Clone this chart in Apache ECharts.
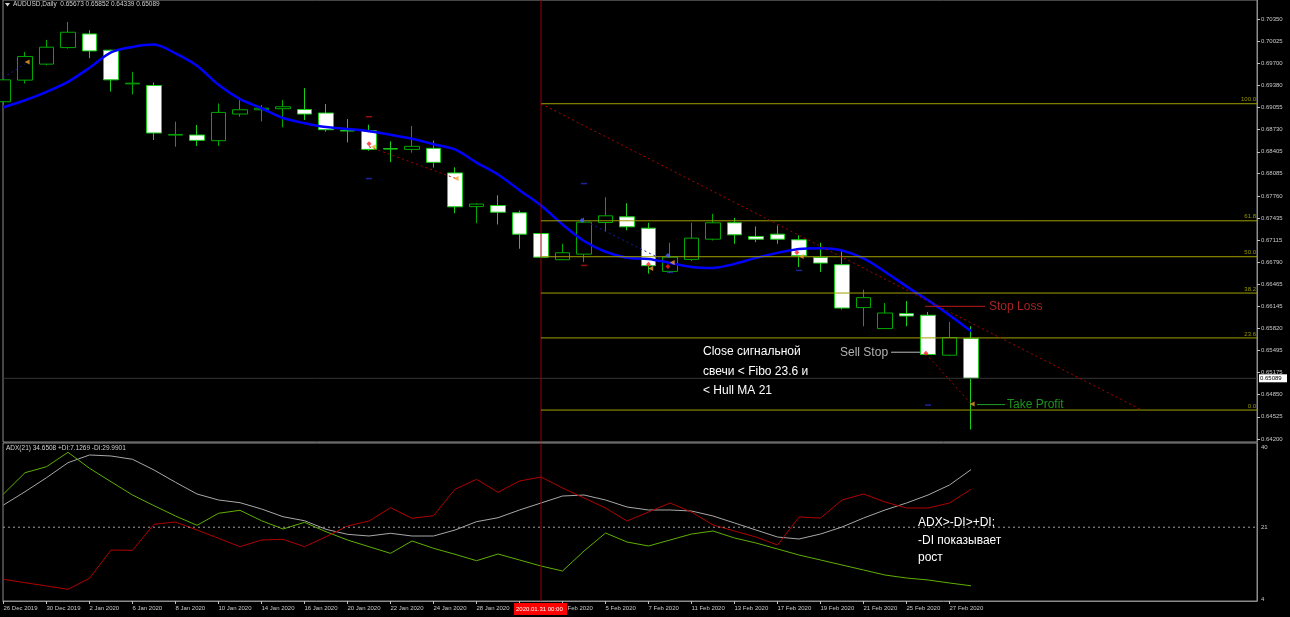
<!DOCTYPE html>
<html>
<head>
<meta charset="utf-8">
<title>AUDUSD,Daily</title>
<script src="https://cdn.jsdelivr.net/npm/echarts@6/dist/echarts.min.js"></script>
<style>
  html, body { margin: 0; padding: 0; background: #000; }
  #main { width: 1290px; height: 617px; }
</style>
</head>
<body>
<div id="main"></div>
<script>
// бары (дневки)
const dates = ['26 Dec 2019', '27 Dec 2019', '30 Dec 2019', '31 Dec 2019', '2 Jan 2020', '3 Jan 2020',
  '6 Jan 2020', '7 Jan 2020', '8 Jan 2020', '9 Jan 2020', '10 Jan 2020', '13 Jan 2020', '14 Jan 2020',
  '15 Jan 2020', '16 Jan 2020', '17 Jan 2020', '20 Jan 2020', '21 Jan 2020', '22 Jan 2020', '23 Jan 2020',
  '24 Jan 2020', '27 Jan 2020', '28 Jan 2020', '29 Jan 2020', '30 Jan 2020', '31 Jan 2020', '3 Feb 2020',
  '4 Feb 2020', '5 Feb 2020', '6 Feb 2020', '7 Feb 2020', '10 Feb 2020', '11 Feb 2020', '12 Feb 2020',
  '13 Feb 2020', '14 Feb 2020', '17 Feb 2020', '18 Feb 2020', '19 Feb 2020', '20 Feb 2020', '21 Feb 2020',
  '24 Feb 2020', '25 Feb 2020', '26 Feb 2020', '27 Feb 2020', '28 Feb 2020'];
const opens = [0.69138, 0.69455, 0.69689, 0.69931, 0.70131, 0.69893, 0.69400, 0.69376, 0.68650, 0.68651,
  0.68568, 0.68958, 0.69021, 0.69036, 0.69025, 0.68973, 0.68718, 0.68714, 0.68450, 0.68441, 0.68456,
  0.68096, 0.67603, 0.67619, 0.67512, 0.67209, 0.66825, 0.66907, 0.67370, 0.67453, 0.67287, 0.66654,
  0.66830, 0.67126, 0.67366, 0.67166, 0.67199, 0.67117, 0.66859, 0.66752, 0.66124, 0.65817, 0.66036,
  0.66012, 0.65427, 0.65673];
const highs = [0.69480, 0.69868, 0.70044, 0.70307, 0.70185, 0.69900, 0.69576, 0.69420, 0.68846, 0.68798,
  0.69113, 0.69201, 0.69090, 0.69163, 0.69338, 0.69104, 0.68885, 0.68802, 0.68558, 0.68783, 0.68568,
  0.68178, 0.67652, 0.67769, 0.67545, 0.67215, 0.67059, 0.67439, 0.67740, 0.67652, 0.67366, 0.67074,
  0.67366, 0.67497, 0.67439, 0.67312, 0.67326, 0.67180, 0.67074, 0.66951, 0.66387, 0.66191, 0.66220,
  0.66060, 0.65914, 0.65852];
const lows = [0.69100, 0.69405, 0.69670, 0.69917, 0.69776, 0.69288, 0.69244, 0.68578, 0.68480, 0.68491,
  0.68491, 0.68919, 0.68850, 0.68763, 0.68871, 0.68700, 0.68543, 0.68420, 0.68254, 0.68393, 0.68174,
  0.67506, 0.67360, 0.67341, 0.66986, 0.66850, 0.66820, 0.66790, 0.67229, 0.67258, 0.66621, 0.66630,
  0.66805, 0.67107, 0.67059, 0.67082, 0.67059, 0.66717, 0.66644, 0.66095, 0.65851, 0.65810, 0.65851,
  0.65430, 0.65413, 0.64339];
const closes = [0.69459, 0.69800, 0.69937, 0.70156, 0.69883, 0.69459, 0.69410, 0.68681, 0.68660, 0.68573,
  0.68982, 0.69021, 0.69043, 0.69065, 0.68958, 0.68729, 0.68710, 0.68441, 0.68447, 0.68485, 0.68251,
  0.67600, 0.67640, 0.67521, 0.67199, 0.66863, 0.66927, 0.67375, 0.67468, 0.67307, 0.66738, 0.66863,
  0.67141, 0.67366, 0.67190, 0.67126, 0.67126, 0.66884, 0.66776, 0.66118, 0.66270, 0.66045, 0.66001,
  0.65437, 0.65686, 0.65089];
// Hull MA 21
const hullMA = [0.69057, 0.69160, 0.69284, 0.69430, 0.69635, 0.69861, 0.69941, 0.69975, 0.69846, 0.69664,
  0.69386, 0.69177, 0.69043, 0.68900, 0.68824, 0.68768, 0.68740, 0.68707, 0.68656, 0.68597, 0.68517,
  0.68440, 0.68247, 0.68074, 0.67843, 0.67618, 0.67341, 0.67100, 0.66942, 0.66854, 0.66837, 0.66778,
  0.66720, 0.66705, 0.66764, 0.66852, 0.66925, 0.66983, 0.66993, 0.66961, 0.66844, 0.66650, 0.66435,
  0.66231, 0.66012, 0.65778];
// ADX(21)
const adx = [26.26, 29.41, 32.73, 36.28, 38.11, 37.87, 37.09, 34.55, 31.64, 28.87, 27.45, 26.81, 25.32,
  23.49, 22.54, 20.51, 19.32, 18.92, 19.56, 18.92, 18.92, 20.34, 22.31, 23.25, 25.08, 26.74, 28.39, 28.63,
  27.45, 25.79, 25.08, 25.08, 24.84, 23.66, 22.00, 20.34, 18.68, 18.21, 19.39, 21.05, 23.18, 25.08, 26.74,
  28.63, 31.00, 34.6508];
const plusDI = [28.87, 33.91, 35.33, 38.74, 34.96, 31.78, 28.63, 26.10, 23.66, 21.45, 24.30, 25.01, 22.54,
  20.58, 22.16, 19.94, 17.97, 16.39, 14.82, 17.74, 16.01, 14.59, 13.07, 14.66, 13.24, 11.81, 10.63, 15.37,
  19.63, 17.50, 16.55, 17.97, 19.39, 20.10, 18.45, 17.26, 15.84, 14.42, 13.24, 12.05, 10.87, 9.68, 8.97,
  8.50, 7.79, 7.1269];
const minusDI = [8.66, 7.86, 7.08, 6.30, 8.90, 15.60, 15.53, 21.69, 22.24, 20.34, 18.38, 16.39, 17.97,
  18.14, 16.39, 18.75, 21.29, 22.47, 25.62, 23.11, 23.73, 29.98, 32.35, 29.27, 31.95, 32.89, 30.29, 27.92,
  25.55, 22.47, 24.60, 26.74, 24.60, 21.53, 20.10, 18.68, 16.79, 23.42, 23.18, 27.45, 28.87, 26.97, 25.55,
  25.55, 26.74, 29.9901];

const priceTicks = [0.70350, 0.70025, 0.69700, 0.69380, 0.69055, 0.68730, 0.68405, 0.68085, 0.67760,
  0.67435, 0.67115, 0.66790, 0.66465, 0.66145, 0.65820, 0.65495, 0.65175, 0.64850, 0.64525, 0.64200];
const adxTicks = [4, 21, 40];
const adxLevel = 21;
const dateTicks = [0, 2, 4, 6, 8, 10, 12, 14, 16, 18, 20, 22, 24, 26, 28, 30, 32, 34, 36, 38, 40, 42, 44];

// Фибо от 31 Jan
const fibNames = ['100.0', '61.8', '50.0', '38.2', '23.6', '0.0'];
const fibValues = [0.69109, 0.67395, 0.66869, 0.66337, 0.65680, 0.64624];
const fibBar = 25;
const fibTrend = [[25, 0.69109], [52.95, 0.64624]];
const tradeLineA = [[17, 0.68480], [21.05, 0.68013]];
const tradeLineB = [[42.9, 0.65452], [45.05, 0.64697]];
const tradeLineC = [[26.9, 0.67414], [30.9, 0.66786]];
const tradeLineD = [[-0.02, 0.69488], [1.0, 0.69693]];

// уровни ордера
const stopLoss = 0.66143, sellStop = 0.65471, takeProfit = 0.64704;
const stopLossBars = [42.86, 45.65];
const sellStopBars = [41.28, 42.63];
const takeProfitBars = [45.28, 46.58];

const redMarks = [[17.0, 0.68524], [30.0, 0.66757], [30.9, 0.66727], [36.9, 0.66932], [42.9, 0.65456]];
const orangeMarks = [[1.1, 0.69722], [17.2, 0.68480], [21.05, 0.68013], [30.1, 0.66698], [31.1, 0.66786],
  [37.1, 0.66873], [45.05, 0.64711]];
const blueMarks = [[26.9, 0.67399], [30.9, 0.66888]];
const blueDashes = [[17, 0.68013], [27, 0.67940], [31, 0.66640], [37, 0.66669], [43, 0.64697]];
const redDashes = [[17, 0.68919], [27, 0.66742]];

const xMin = -0.0233, xMax = 58.30;
const yMin = 0.641562, yMax = 0.706280;
const adxMin = 3.526, adxMax = 40.947;

const last = closes.length - 1;
const FONT = 'Liberation Sans';

function seg(data, color, type, grid) {
  return {
    type: 'line', xAxisIndex: grid || 0, yAxisIndex: grid || 0, data: data, showSymbol: false,
    silent: true, z: 4, lineStyle: { color: color, width: 1, type: type || 'solid' }
  };
}
function marks(data, symbol, size, color, rotate) {
  return {
    type: 'scatter', xAxisIndex: 0, yAxisIndex: 0, data: data, symbol: symbol, symbolSize: size,
    symbolRotate: rotate || 0, silent: true, z: 6, itemStyle: { color: color }
  };
}

const fibSeries = fibValues.map(function (v) {
  return seg([[fibBar, v], [xMax, v]], '#a0a000');
});

const option = {
  backgroundColor: '#000000',
  animation: false,
  textStyle: { fontFamily: FONT },
  grid: [
    { left: 3, top: -1, width: 1254, height: 443, show: true, borderColor: '#8c8c8c', borderWidth: 1 },
    { left: 3, top: 443, width: 1254, height: 158, show: true, borderColor: '#8c8c8c', borderWidth: 1 }
  ],
  xAxis: [
    { type: 'value', gridIndex: 0, min: xMin, max: xMax, show: false },
    {
      type: 'value', gridIndex: 1, min: xMin, max: xMax,
      axisLine: { show: true, onZero: false, lineStyle: { color: '#8c8c8c' } },
      axisTick: { show: true, customValues: dateTicks, length: 3, lineStyle: { color: '#c0c0c0' } },
      axisLabel: {
        customValues: dateTicks, formatter: function (v) { return dates[Math.round(v)]; },
        align: 'left', margin: 4, fontSize: 6, color: '#c8c8c8', fontFamily: FONT
      },
      splitLine: { show: false }
    }
  ],
  yAxis: [
    {
      type: 'value', gridIndex: 0, min: yMin, max: yMax, position: 'right',
      axisLine: { show: true, onZero: false, lineStyle: { color: '#8c8c8c' } },
      axisTick: { show: true, customValues: priceTicks, length: 3, lineStyle: { color: '#c0c0c0' } },
      axisLabel: {
        customValues: priceTicks, formatter: function (v) { return v.toFixed(5); },
        margin: 4, fontSize: 6, color: '#c8c8c8', fontFamily: FONT
      },
      splitLine: { show: false }
    },
    {
      type: 'value', gridIndex: 1, min: adxMin, max: adxMax, position: 'right',
      axisLine: { show: true, onZero: false, lineStyle: { color: '#8c8c8c' } },
      axisTick: { show: false },
      axisLabel: {
        customValues: adxTicks, formatter: function (v) { return String(v); },
        margin: 4, fontSize: 6, color: '#c8c8c8', fontFamily: FONT
      },
      splitLine: { show: false }
    }
  ],
  series: [
    // текущая цена и вертикаль 31 Jan
    seg([[xMin, closes[last]], [xMax, closes[last]]], '#363636'),
    seg([[fibBar, yMin], [fibBar, yMax]], '#9a0000'),
    {
      type: 'candlestick', xAxisIndex: 0, yAxisIndex: 0, barWidth: 15, z: 2,
      data: dates.map(function (d, i) { return [i, opens[i], closes[i], lows[i], highs[i]]; }),
      itemStyle: {
        color: '#000000', color0: '#ffffff',
        borderColor: '#00a800', borderColor0: '#18d018', borderWidth: 1
      }
    },
    {
      type: 'line', name: 'Hull MA 21', xAxisIndex: 0, yAxisIndex: 0, z: 3,
      data: hullMA.map(function (v, i) { return [i, v]; }),
      showSymbol: false, smooth: 0.3, silent: true,
      lineStyle: { color: '#0000ff', width: 2.5 }
    }
  ].concat(fibSeries).concat([
    {
      type: 'scatter', xAxisIndex: 0, yAxisIndex: 0, symbolSize: 0, silent: true, z: 7,
      data: fibValues.map(function (v, k) {
        return { value: [xMax, v], label: { show: true, position: 'left', distance: 1, offset: [0, -4],
          formatter: fibNames[k], color: '#b8b800', fontSize: 6, fontFamily: FONT } };
      })
    },
    seg(fibTrend, '#b00000', [2, 3]),
    seg(tradeLineA, '#b00000', [2, 3]),
    seg(tradeLineB, '#b00000', [2, 3]),
    seg(tradeLineC, '#1a1aa0', [2, 3]),
    seg(tradeLineD, '#1a1aa0', [2, 3]),
    seg([[stopLossBars[0], stopLoss], [stopLossBars[1], stopLoss]], '#c01818'),
    seg([[sellStopBars[0], sellStop], [sellStopBars[1], sellStop]], '#bdbdbd'),
    seg([[takeProfitBars[0], takeProfit], [takeProfitBars[1], takeProfit]], '#1f9f1f'),
    {
      type: 'scatter', xAxisIndex: 0, yAxisIndex: 0, symbolSize: 0, silent: true, z: 7,
      data: [
        { value: [stopLossBars[1], stopLoss], label: { show: true, position: 'right', distance: 4,
          formatter: 'Stop Loss', color: '#d42a2a', fontSize: 12, fontFamily: FONT } },
        { value: [sellStopBars[0], sellStop], label: { show: true, position: 'left', distance: 3,
          formatter: 'Sell Stop', color: '#dcdcdc', fontSize: 12, fontFamily: FONT } },
        { value: [takeProfitBars[1], takeProfit], label: { show: true, position: 'right', distance: 2,
          formatter: 'Take Profit', color: '#26b626', fontSize: 12, fontFamily: FONT } }
      ]
    },
    marks(redMarks, 'diamond', 5, '#ff2020'),
    marks(orangeMarks, 'triangle', 5, '#f0a030', 90),
    marks(blueMarks, 'diamond', 5, '#4060ff'),
    marks(blueDashes, 'rect', [6, 1.5], '#2030c0'),
    marks(redDashes, 'rect', [6, 1.5], '#c01010'),
    // панель ADX
    seg([[xMin, adxLevel], [xMax, adxLevel]], '#a0a0a0', [2, 3], 1),
    seg([[fibBar, adxMin], [fibBar, adxMax]], '#9a0000', 'solid', 1),
    {
      type: 'line', name: 'ADX', xAxisIndex: 1, yAxisIndex: 1, showSymbol: false, silent: true,
      data: adx.map(function (v, i) { return [i, v]; }),
      lineStyle: { color: '#a8a8a8', width: 1 }
    },
    {
      type: 'line', name: '+DI', xAxisIndex: 1, yAxisIndex: 1, showSymbol: false, silent: true,
      data: plusDI.map(function (v, i) { return [i, v]; }),
      lineStyle: { color: '#5fb000', width: 1 }
    },
    {
      type: 'line', name: '-DI', xAxisIndex: 1, yAxisIndex: 1, showSymbol: false, silent: true,
      data: minusDI.map(function (v, i) { return [i, v]; }),
      lineStyle: { color: '#b00000', width: 1 }
    }
  ])
};

const chart = echarts.init(document.getElementById('main'));
chart.setOption(option);

// подписи поверх графика
const pricePt = chart.convertToPixel({ xAxisIndex: 0, yAxisIndex: 0 }, [0, closes[last]]);
const timePt = chart.convertToPixel({ xAxisIndex: 1, yAxisIndex: 1 }, [fibBar, 20]);
const titleText = 'AUDUSD,Daily  ' + [opens[last], highs[last], lows[last], closes[last]]
  .map(function (v) { return v.toFixed(5); }).join(' ');
const adxText = 'ADX(21) ' + adx[last].toFixed(4) + ' +DI:' + plusDI[last].toFixed(4) +
  ' -DI:' + minusDI[last].toFixed(4);

chart.setOption({
  graphic: [
    { type: 'polygon', shape: { points: [[5, 3], [10, 3], [7.5, 6.5]] }, style: { fill: '#d0d0d0' } },
    { type: 'text', left: 13, top: 1, style: { text: titleText, fill: '#d0d0d0', font: '6.5px ' + FONT } },
    { type: 'text', left: 6, top: 445, style: { text: adxText, fill: '#d0d0d0', font: '6.5px ' + FONT } },
    { type: 'text', left: 703, top: 342, z: 10,
      style: { text: 'Close сигнальной\nсвечи < Fibo 23.6 и\n< Hull MA 21', fill: '#ffffff',
        font: '12px ' + FONT, lineHeight: 19.5 } },
    { type: 'text', left: 918, top: 514, z: 10,
      style: { text: 'ADX>-DI>+DI;\n-DI показывает\nрост', fill: '#ffffff',
        font: '12px ' + FONT, lineHeight: 17.5 } },
    { type: 'rect', z: 20, shape: { x: 1259, y: pricePt[1] - 4, width: 28, height: 8 },
      style: { fill: '#ffffff' } },
    { type: 'text', z: 21, x: 1260, y: pricePt[1],
      style: { text: closes[last].toFixed(5), fill: '#000000', font: '6px ' + FONT, verticalAlign: 'middle' } },
    { type: 'rect', z: 20, shape: { x: timePt[0] - 27, y: 603, width: 53, height: 12 },
      style: { fill: '#ff0000' } },
    { type: 'text', z: 21, x: timePt[0] - 25, y: 609,
      style: { text: '2020.01.31 00:00', fill: '#ffffff', font: '6px ' + FONT, verticalAlign: 'middle' } }
  ]
});
</script>
</body>
</html>
